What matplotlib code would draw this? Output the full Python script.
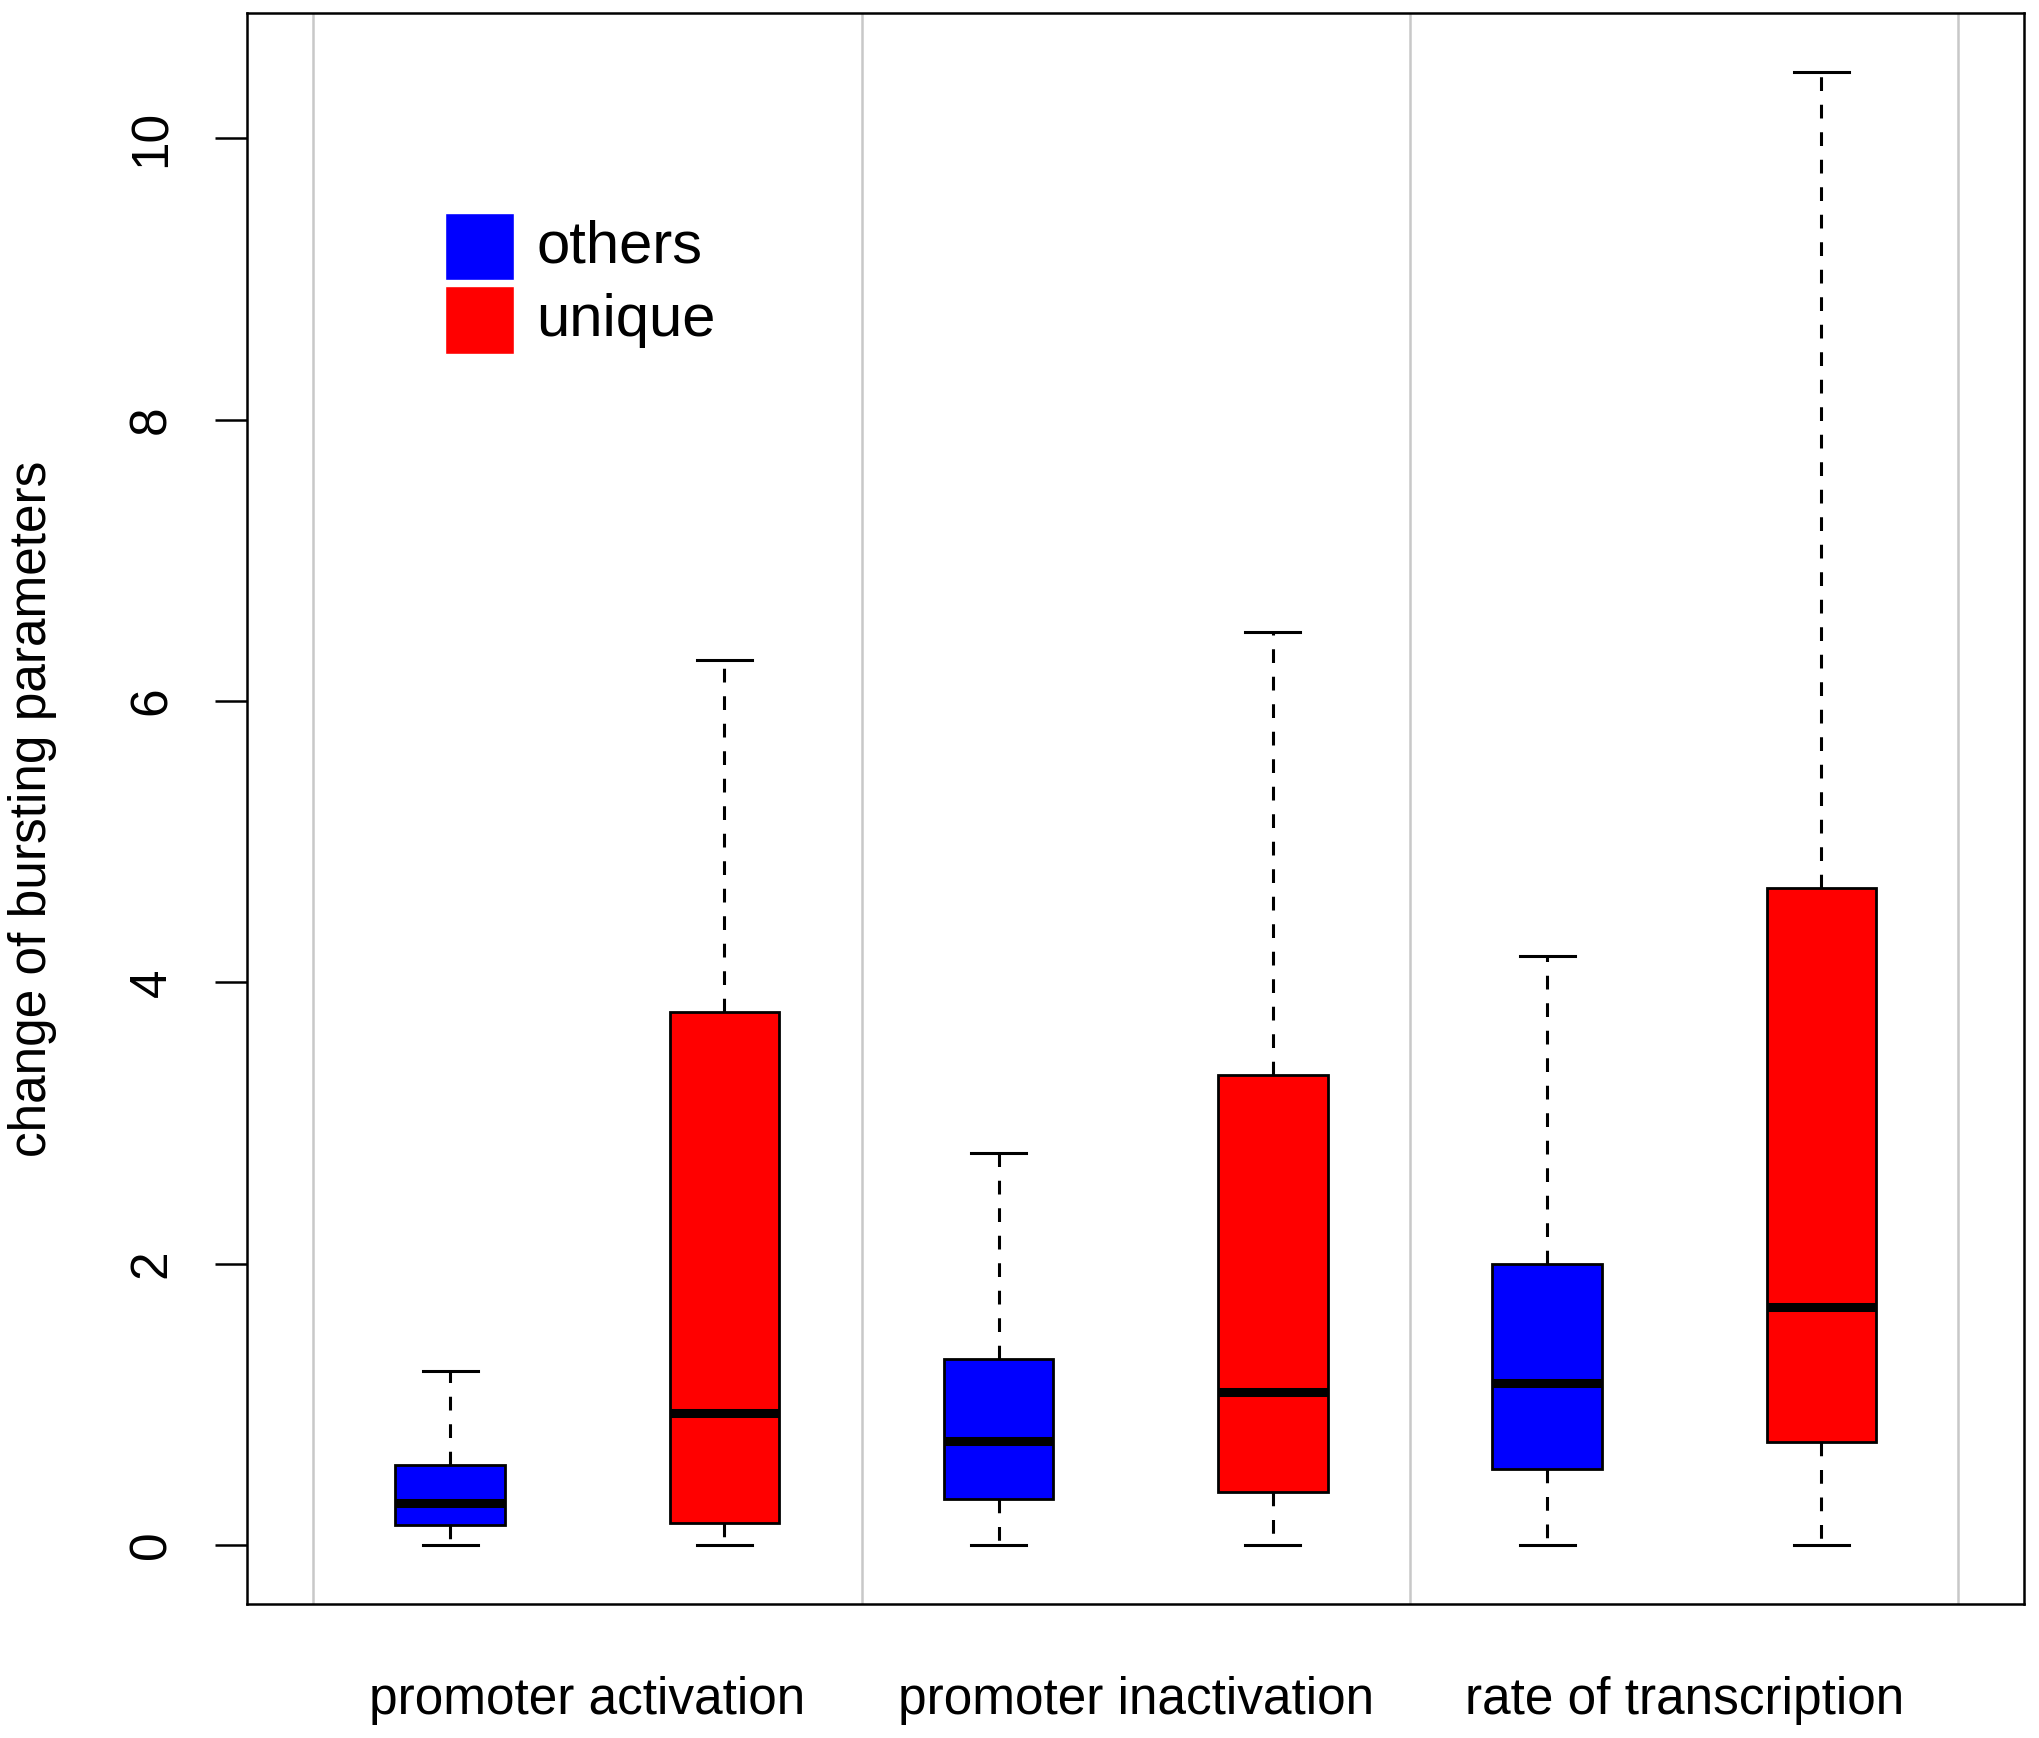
#!/usr/bin/env python3
import matplotlib
matplotlib.use("Agg")
import matplotlib.pyplot as plt
from matplotlib.patches import Rectangle

plt.rcParams['font.family'] = ['Liberation Sans', 'DejaVu Sans']

# data: per box (whisker low, Q1, median, Q3, whisker high)
groups = ['promoter activation', 'promoter inactivation', 'rate of transcription']
series = ['others', 'unique']
colors = ['#0000ff', '#ff0000']
whislo = [0, 0, 0, 0, 0, 0]
q1 = [0.14, 0.16, 0.33, 0.38, 0.54, 0.73]
med = [0.30, 0.94, 0.74, 1.09, 1.15, 1.69]
q3 = [0.57, 3.79, 1.32, 3.34, 2.00, 4.67]
whishi = [1.24, 6.29, 2.79, 6.49, 4.19, 10.47]
positions = [1, 2, 3, 4, 5, 6]
separators = [0.5, 2.5, 4.5, 6.5]


def main():
    fig = plt.figure(figsize=(20.4, 17.38), dpi=100)
    ax = fig.add_axes([0.1212, 0.0771, 0.8711, 0.9154])

    for xs in separators:
        ax.axvline(xs, color='#c8c8c8', lw=1.8, zorder=0)

    stats = []
    for i in range(len(positions)):
        stats.append(dict(whislo=whislo[i], q1=q1[i], med=med[i], q3=q3[i],
                          whishi=whishi[i], fliers=[]))

    bp = ax.bxp(stats, positions=positions, widths=0.4, capwidths=0.2,
                patch_artist=True, showfliers=False,
                boxprops=dict(edgecolor='black', linewidth=2.0),
                medianprops=dict(color='black', linewidth=6.5, solid_capstyle='butt'),
                whiskerprops=dict(color='black', linewidth=2.2, linestyle=(0, (4.5, 4.5))),
                capprops=dict(color='black', linewidth=2.2))
    for i, box in enumerate(bp['boxes']):
        box.set_facecolor(colors[i % 2])

    ax.set_xlim(0.26, 6.74)
    ax.set_ylim(-0.419, 10.89)

    ax.set_yticks([0, 2, 4, 6, 8, 10])
    ax.tick_params(axis='y', length=23, width=1.8, pad=28, labelsize=37,
                   labelrotation=90)
    for lab in ax.get_yticklabels():
        lab.set_va('center')
    ax.set_xticks([1.5, 3.5, 5.5])
    ax.set_xticklabels(groups)
    ax.tick_params(axis='x', length=0, pad=52, labelsize=37)

    ax.set_ylabel('change of bursting parameters', fontsize=37, va='center')
    ax.yaxis.set_label_coords(-0.1208, 0.5)

    for sp in ax.spines.values():
        sp.set_linewidth(1.8)

    # legend, drawn as in base R: filled squares with labels
    sq_y = [0.832, 0.7858]
    for i, name in enumerate(series):
        ax.add_patch(Rectangle((0.1113, sq_y[i]), 0.0388, 0.0425,
                               transform=ax.transAxes, facecolor=colors[i],
                               edgecolor='white', lw=1.0))
        ax.text(0.1625, sq_y[i] + 0.021, name, transform=ax.transAxes,
                fontsize=43, va='center', ha='left')

    fig.savefig("out.png", dpi=100)


if __name__ == '__main__':
    main()
